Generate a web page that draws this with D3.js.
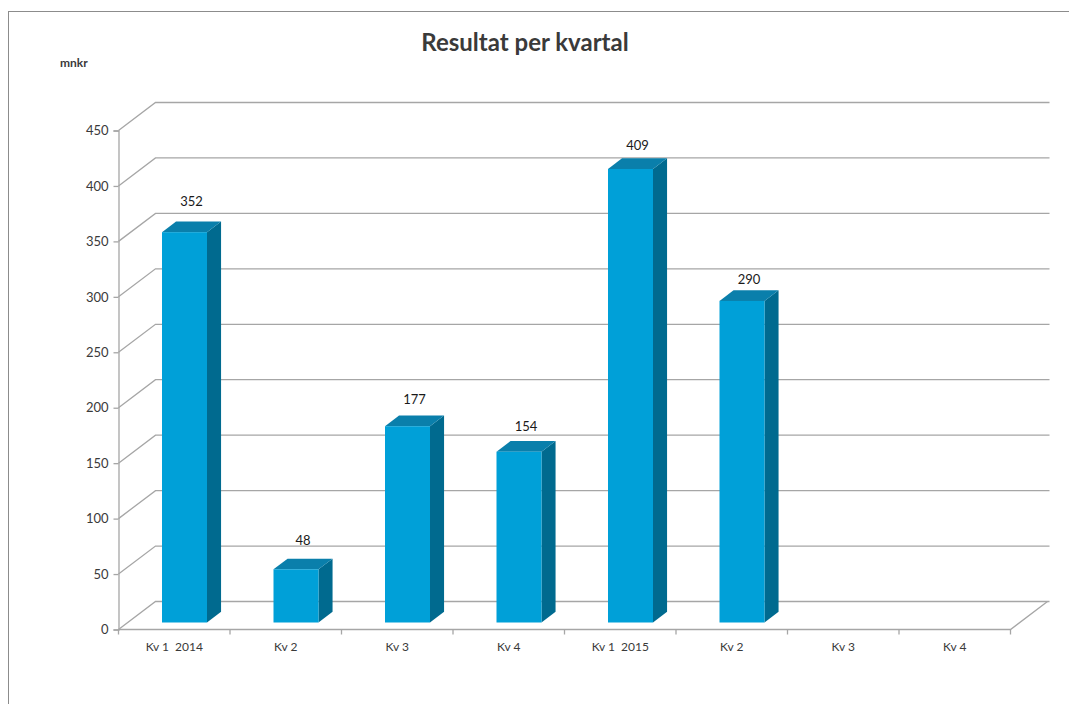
<!DOCTYPE html>
<html>
<head>
<meta charset="utf-8">
<script src="https://cdn.jsdelivr.net/npm/d3@7"></script>
<style>
  body { margin: 0; background: #fff; }
  text { font-family: Lato, "Open Sans", sans-serif; }
</style>
</head>
<body>
<div id="chart"></div>
<script>
// chart data
const categories = ['Kv 1  2014', 'Kv 2', 'Kv 3', 'Kv 4', 'Kv 1  2015', 'Kv 2', 'Kv 3', 'Kv 4']
const values = [352, 48, 177, 154, 409, 290, null, null]
const yTicks = [0, 50, 100, 150, 200, 250, 300, 350, 400, 450]

const width = 1069
const height = 704

// depth of the 3d box
const depthX = 37
const depthY = -28

const svg = d3.select('#chart').append('svg')
    .attr('width', width)
    .attr('height', height)

// outer frame (clipped by the page like in the screenshot)
svg.append('rect')
    .attr('x', 8.5).attr('y', 11.5)
    .attr('width', 1100).attr('height', 760)
    .attr('fill', 'none')
    .attr('stroke', '#8c8c8c')

const x = d3.scaleBand()
    .domain(d3.range(categories.length))
    .range([118.5, 1010.5])

const y = d3.scaleLinear()
    .domain([0, 450])
    .range([629.5, 130.5])

const gridColor = '#a6a6a6'

// back wall grid + left wall diagonals
let grid = svg.append('g')
grid.selectAll('path.grid')
    .data(yTicks)
    .enter()
    .append('path')
    .attr('class', 'grid')
    .attr('d', function (d) {
        const y0 = y(d)
        return `M${x.range()[0]},${y0}L${x.range()[0] + depthX},${y0 + depthY}L${x.range()[1] + depthX + 2},${y0 + depthY}`
    })
    .attr('fill', 'none')
    .attr('stroke', gridColor)
    .attr('stroke-width', 1.3)

// floor front edge and right diagonal
svg.append('path')
    .attr('d', `M${x.range()[0]},${y(0)}L${x.range()[1]},${y(0)}L${x.range()[1] + depthX},${y(0) + depthY}`)
    .attr('fill', 'none')
    .attr('stroke', gridColor)
    .attr('stroke-width', 1.3)

// y axis
const yAxis = d3.axisLeft(y)
    .tickValues(yTicks)
    .tickSize(5)
    .tickPadding(5)
let gy = svg.append('g')
    .attr('transform', `translate(${x.range()[0]},0)`)
    .call(yAxis)
gy.select('.domain').attr('stroke', gridColor).attr('stroke-width', 1.3)
gy.selectAll('.tick line').attr('stroke', gridColor).attr('stroke-width', 1.3)
gy.selectAll('.tick text')
    .attr('fill', '#3a3a3a')
    .style('font-size', '13px')
    .style('font-family', 'Lato, "Open Sans", sans-serif')

// x axis
const xAxis = d3.axisBottom(x)
    .tickFormat(function (i) { return categories[i] })
    .tickSize(0)
    .tickPadding(13)
let gx = svg.append('g')
    .attr('transform', `translate(0,${y(0)})`)
    .call(xAxis)
gx.select('.domain').remove()
gx.selectAll('.tick text')
    .attr('fill', '#3a3a3a')
    .style('font-size', '12px')
    .style('font-family', 'Lato, "Open Sans", sans-serif')
    .style('white-space', 'pre')
    .attr('xml:space', 'preserve')
// category separator ticks
gx.selectAll('line.sep')
    .data(d3.range(categories.length + 1))
    .enter()
    .append('line')
    .attr('class', 'sep')
    .attr('x1', function (i) { return x.range()[0] + i * x.step() })
    .attr('x2', function (i) { return x.range()[0] + i * x.step() })
    .attr('y1', 0)
    .attr('y2', 5)
    .attr('stroke', gridColor)
    .attr('stroke-width', 1.3)

// bars: placed from 25% to 63% of the depth
const bStart = 0.25
const bDepth = 0.38
const barW = 45
const bars = values.map(function (v, i) { return { v: v, i: i } }).filter(function (d) { return d.v !== null })

let gb = svg.append('g')
gb.selectAll('g.bar')
    .data(bars)
    .enter()
    .append('g')
    .attr('class', 'bar')
    .each(function (d) {
        const g = d3.select(this)
        const cx = x(d.i) + x.bandwidth() / 2 + depthX * bStart + 1
        const x0 = cx - barW / 2
        const x1 = cx + barW / 2
        const yb = y(0) + depthY * bStart
        const yt = y(d.v) + depthY * bStart
        const ddx = depthX * bDepth
        const ddy = depthY * bDepth
        // side
        g.append('path')
            .attr('d', `M${x1},${yb}L${x1 + ddx},${yb + ddy}L${x1 + ddx},${yt + ddy}L${x1},${yt}Z`)
            .attr('fill', '#006a8f')
        // top
        g.append('path')
            .attr('d', `M${x0},${yt}L${x0 + ddx},${yt + ddy}L${x1 + ddx},${yt + ddy}L${x1},${yt}Z`)
            .attr('fill', '#0a7fab')
        // front
        g.append('rect')
            .attr('x', x0).attr('y', yt)
            .attr('width', barW).attr('height', yb - yt)
            .attr('fill', '#00a0d8')
        // value label (the 3d projection lifts the left ones a bit more)
        g.append('text')
            .attr('x', cx + ddx / 2)
            .attr('y', yt - 26 + 1.8 * d.i)
            .attr('text-anchor', 'middle')
            .attr('fill', '#1a1a1a')
            .style('font-size', '13px')
            .text(d.v)
    })

// title and unit
svg.append('text')
    .attr('x', 525)
    .attr('y', 51)
    .attr('text-anchor', 'middle')
    .attr('fill', '#3a3a3a')
    .style('font-size', '24px')
    .style('font-weight', 'bold')
    .text('Resultat per kvartal')

svg.append('text')
    .attr('x', 60)
    .attr('y', 67)
    .attr('fill', '#3a3a3a')
    .style('font-size', '12px')
    .style('font-weight', 'bold')
    .text('mnkr')
</script>
</body>
</html>
